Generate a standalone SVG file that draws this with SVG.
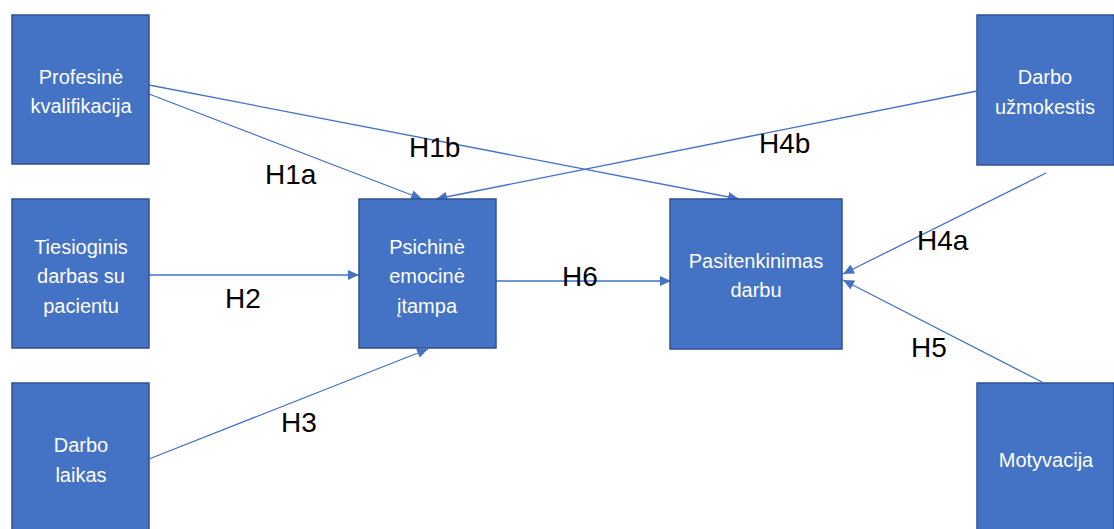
<svg xmlns="http://www.w3.org/2000/svg" width="1114" height="529" viewBox="0 0 1114 529">
<style>
.box{fill:#4472C4;stroke:#2F528F;stroke-width:1.5}
.t{font-family:"Liberation Sans",Arial,sans-serif;font-size:20px;fill:#FFFFFF;text-anchor:middle}
.lbl{font-family:"Liberation Sans",Arial,sans-serif;font-size:28px;fill:#000000}
.c{stroke:#4472C4;stroke-width:1.3;fill:none;marker-end:url(#ah)}
</style>
<defs>
<marker id="ah" markerUnits="userSpaceOnUse" markerWidth="12" markerHeight="10" refX="11" refY="5" orient="auto">
<path d="M0,0 L11,5 L0,10 Z" fill="#4472C4"/>
</marker>
</defs>
<rect width="1114" height="529" fill="#FFFFFF"/>
<g id="connectors">
<line class="c" x1="149" y1="94" x2="422" y2="199"/>
<line class="c" x1="149" y1="85" x2="739" y2="199"/>
<line class="c" x1="977" y1="91" x2="436" y2="199"/>
<line class="c" x1="149" y1="275" x2="359" y2="275"/>
<line class="c" x1="149" y1="459" x2="428" y2="349"/>
<line class="c" x1="496" y1="281" x2="671" y2="281"/>
<line class="c" x1="1046" y1="173" x2="843" y2="274"/>
<line class="c" x1="1042" y1="382" x2="843" y2="280"/>
</g>
<g id="labels">
<text class="lbl" x="265" y="184">H1a</text>
<text class="lbl" x="409" y="157">H1b</text>
<text class="lbl" x="759" y="153">H4b</text>
<text class="lbl" x="225" y="308">H2</text>
<text class="lbl" x="281" y="432">H3</text>
<text class="lbl" x="562" y="286">H6</text>
<text class="lbl" x="917" y="250">H4a</text>
<text class="lbl" x="911" y="357">H5</text>
</g>
<g id="n-profesine">
<rect class="box" x="12" y="15" width="137" height="149"/>
<text class="t" x="81" y="84">Profesinė</text>
<text class="t" x="81" y="113">kvalifikacija</text>
</g>
<g id="n-tiesioginis">
<rect class="box" x="12" y="199" width="137" height="149"/>
<text class="t" x="81" y="254">Tiesioginis</text>
<text class="t" x="81" y="283">darbas su</text>
<text class="t" x="81" y="313">pacientu</text>
</g>
<g id="n-darbo-laikas">
<rect class="box" x="12" y="383" width="137" height="149"/>
<text class="t" x="81" y="452">Darbo</text>
<text class="t" x="81" y="482">laikas</text>
</g>
<g id="n-psichine">
<rect class="box" x="359" y="199" width="137" height="149"/>
<text class="t" x="427" y="254">Psichinė</text>
<text class="t" x="427" y="283">emocinė</text>
<text class="t" x="427" y="313">įtampa</text>
</g>
<g id="n-pasitenkinimas">
<rect class="box" x="670" y="199" width="172" height="150"/>
<text class="t" x="756" y="268">Pasitenkinimas</text>
<text class="t" x="756" y="297">darbu</text>
</g>
<g id="n-uzmokestis">
<rect class="box" x="977" y="15" width="137" height="150"/>
<text class="t" x="1045" y="84">Darbo</text>
<text class="t" x="1045" y="114">užmokestis</text>
</g>
<g id="n-motyvacija">
<rect class="box" x="977" y="383" width="137" height="149"/>
<text class="t" x="1046" y="467">Motyvacija</text>
</g>
</svg>
